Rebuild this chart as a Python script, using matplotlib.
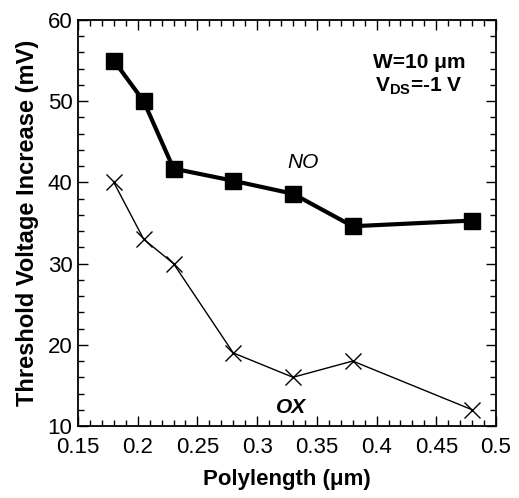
import matplotlib
matplotlib.use("Agg")
import matplotlib.pyplot as plt
from matplotlib.ticker import MultipleLocator

plt.rcParams['font.family'] = ['Liberation Sans', 'DejaVu Sans']
plt.rcParams['mathtext.fontset'] = 'custom'
plt.rcParams['mathtext.bf'] = 'Liberation Sans:bold'

polylength = [0.18, 0.205, 0.23, 0.28, 0.33, 0.38, 0.48]
dvt_no = [55.0, 50.0, 41.7, 40.2, 38.6, 34.6, 35.3]
dvt_ox = [40.0, 33.0, 30.0, 19.0, 16.0, 18.0, 12.0]
xtick_vals = [0.15, 0.2, 0.25, 0.3, 0.35, 0.4, 0.45, 0.5]
xtick_text = ['0.15', '0.2', '0.25', '0.3', '0.35', '0.4', '0.45', '0.5']

fig = plt.figure(figsize=(5.19, 4.98), dpi=100)
ax = fig.add_axes([78 / 519, 72 / 498, 418 / 519, 406 / 498])

ax.plot(polylength, dvt_no, color='black', lw=3, marker='s', ms=12,
        markerfacecolor='black', markeredgecolor='black')
ax.plot(polylength, dvt_ox, color='black', lw=1, marker='x', ms=12, mew=1)

ax.set_xlim(0.15, 0.5)
ax.set_ylim(10, 60)
ax.set_xticks(xtick_vals)
ax.set_xticklabels(xtick_text)
ax.xaxis.set_minor_locator(MultipleLocator(0.01))
ax.yaxis.set_major_locator(MultipleLocator(10))
ax.yaxis.set_minor_locator(MultipleLocator(2))
ax.tick_params(which='both', direction='in', top=True, right=True, labelsize=16)
ax.tick_params(which='major', length=7, width=1)
ax.tick_params(which='minor', length=4, width=1)
ax.tick_params(axis='x', which='major', pad=8)
ax.tick_params(axis='y', which='major', pad=4)
for s in ax.spines.values():
    s.set_linewidth(1.3)

ax.set_xlabel('Polylength (\u03bcm)', fontsize=16, fontweight='bold', labelpad=8)
ax.set_ylabel('Threshold Voltage Increase (mV)', fontsize=17, fontweight='bold', labelpad=6)

ax.text(0.3386, 42.4, 'NO', fontsize=15, style='italic', ha='center', va='center')
ax.text(0.3287, 12.3, 'OX', fontsize=15, style='italic', fontweight='bold',
        ha='center', va='center')
ax.text(0.4356, 54.8, 'W=10 \u03bcm', fontsize=15, fontweight='bold', ha='center', va='center')
ax.text(0.4356, 51.9, 'V$_{\\mathbf{DS}}$=-1 V', fontsize=15, fontweight='bold',
        ha='center', va='center')

fig.savefig('out.png', dpi=100)
